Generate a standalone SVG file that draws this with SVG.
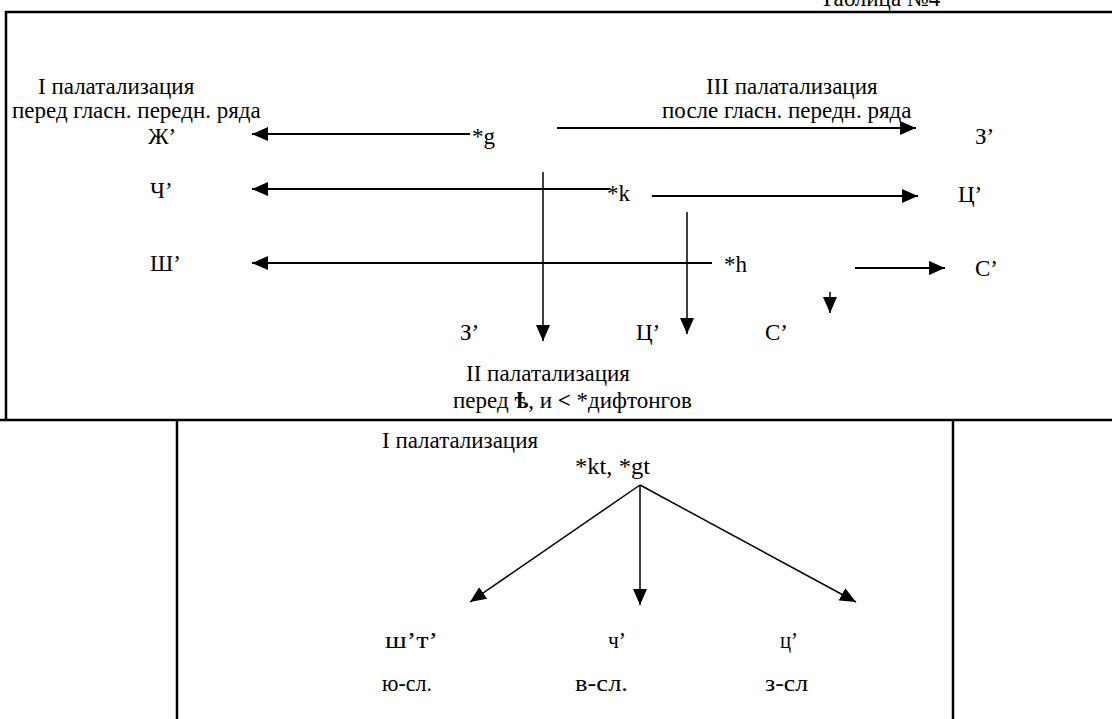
<svg xmlns="http://www.w3.org/2000/svg" width="1112" height="719" viewBox="0 0 1112 719" font-family="'Liberation Serif', 'Times New Roman', serif">
<defs>
<marker id="ah" markerUnits="userSpaceOnUse" markerWidth="18" markerHeight="14" refX="16" refY="7" orient="auto">
<path d="M0,0 L16,7 L0,14 Z" fill="#000"/>
</marker>
<style>
text{font-family:"Liberation Serif","Times New Roman",serif;font-size:23px;fill:#000}
.n{font-size:24px}
.frame{stroke:#000;stroke-width:2.5;fill:none}
.c{stroke:#000;stroke-width:2;fill:none}
.v{stroke:#000;stroke-width:1.5;fill:none}
</style>
</defs>
<rect width="1112" height="719" fill="#fff"/>
<g id="frame">
<text x="820" y="6">Таблица №4</text>
<path class="frame" d="M6,420 V12 H1112"/>
<path class="frame" d="M0,420 H1112"/>
<path class="frame" d="M177,420 V719 M953,420 V719"/>
</g>
<g id="connectors">
<line class="c" x1="470" y1="134" x2="252" y2="134" marker-end="url(#ah)"/>
<line class="c" x1="557" y1="128" x2="916" y2="128" marker-end="url(#ah)"/>
<line class="c" x1="610" y1="189" x2="252" y2="189" marker-end="url(#ah)"/>
<line class="c" x1="652" y1="196" x2="918" y2="196" marker-end="url(#ah)"/>
<line class="c" x1="712" y1="263" x2="252" y2="263" marker-end="url(#ah)"/>
<line class="c" x1="855" y1="268" x2="945" y2="268" marker-end="url(#ah)"/>
<line class="v" x1="543" y1="172" x2="543" y2="341" marker-end="url(#ah)"/>
<line class="v" x1="687" y1="212" x2="687" y2="334" marker-end="url(#ah)"/>
<line class="v" x1="830" y1="292" x2="830" y2="313" marker-end="url(#ah)"/>
<line class="v" x1="640" y1="485" x2="470" y2="602" marker-end="url(#ah)"/>
<line class="v" x1="640" y1="485" x2="640" y2="605" marker-end="url(#ah)"/>
<line class="v" x1="640" y1="485" x2="856" y2="602" marker-end="url(#ah)"/>
</g>
<g id="pal1-label"><text x="38" y="94">I палатализация</text><text x="12" y="118">перед гласн. передн. ряда</text></g>
<g id="pal3-label"><text x="706" y="94">III палатализация</text><text x="662" y="118">после гласн. передн. ряда</text></g>
<g id="g"><text x="472" y="144">*g</text></g>
<g id="k"><text x="607" y="201">*k</text></g>
<g id="h"><text x="724" y="272">*h</text></g>
<g id="zh"><text x="148" y="144">Ж’</text></g>
<g id="ch"><text x="150" y="198">Ч’</text></g>
<g id="sh"><text x="150" y="271">Ш’</text></g>
<g id="z3"><text x="975" y="144">З’</text></g>
<g id="c3"><text x="958" y="202">Ц’</text></g>
<g id="s3"><text x="975" y="276">С’</text></g>
<g id="z2"><text x="460" y="340">З’</text></g>
<g id="c2"><text x="636" y="340">Ц’</text></g>
<g id="s2"><text x="765" y="340">С’</text></g>
<g id="pal2-label"><text x="466" y="381">II палатализация</text><text x="453" y="408">перед <tspan font-weight="bold">ѣ</tspan>, и <tspan font-weight="bold">&lt;</tspan> *дифтонгов</text></g>
<g id="pal1b-label"><text class="n" x="382" y="448" textLength="156" lengthAdjust="spacingAndGlyphs">I палатализация</text></g>
<g id="ktgt"><text class="n" x="575" y="474" textLength="75" lengthAdjust="spacingAndGlyphs">*kt, *gt</text></g>
<g id="sht"><text class="n" x="385" y="648" textLength="53" lengthAdjust="spacingAndGlyphs">ш’т’</text><text class="n" x="382" y="691" textLength="50" lengthAdjust="spacingAndGlyphs">ю-сл.</text></g>
<g id="ch2"><text class="n" x="608" y="648" textLength="18" lengthAdjust="spacingAndGlyphs">ч’</text><text class="n" x="575" y="691" textLength="53" lengthAdjust="spacingAndGlyphs">в-сл.</text></g>
<g id="c4"><text class="n" x="780" y="648" textLength="18" lengthAdjust="spacingAndGlyphs">ц’</text><text class="n" x="765" y="691" textLength="43" lengthAdjust="spacingAndGlyphs">з-сл</text></g>
</svg>
